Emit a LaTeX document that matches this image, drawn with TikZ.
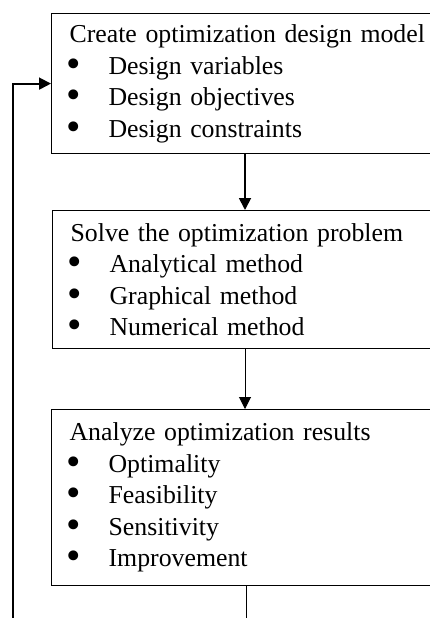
\documentclass[tikz,border=0pt]{standalone}
\usepackage{fontspec}
\setmainfont{Liberation Serif}
\usetikzlibrary{arrows.meta}
\newcommand{\itm}{\makebox[39pt][l]{\hspace{-3pt}\smash{\raisebox{-3pt}{\scalebox{1.6}{\textbullet}}}}}

\begin{document}
\begin{tikzpicture}[x=1pt,y=-1pt,>={Triangle[width=12pt,length=12pt]},
  box/.style={draw,line width=1.2pt,anchor=north west,align=left,
    text width=430pt,inner xsep=18pt,
    font=\fontsize{25.8}{31.5}\selectfont}]
\useasboundingbox (0,0) rectangle (430,618);
\clip (0,0) rectangle (430,618);
\node[box,minimum height=140pt] (create) at (51,13) {Create optimization design model\\
  \itm Design variables\\ \itm Design objectives\\ \itm Design constraints};
\node[box,minimum height=138pt] (solve) at (52,210) {Solve the optimization problem\\
  \itm Analytical method\\ \itm Graphical method\\ \itm Numerical method};
\node[box,minimum height=176pt] (analyze) at (51,409) {Analyze optimization results\\
  \itm Optimality\\ \itm Feasibility\\ \itm Sensitivity\\ \itm Improvement};
\coordinate (col) at (245,0);
\coordinate (out) at (246,618);
\coordinate (back) at (13,618);
\draw[->,line width=1.8pt] (create.south -| col) -- (solve.north -| col);
\draw[->,line width=1pt] (solve.south -| col) -- (analyze.north -| col);
\draw[line width=1pt] (analyze.south -| out) -- (out);
\draw[->,line width=1.8pt] (back) |- (create.west);
\end{tikzpicture}
\end{document}
